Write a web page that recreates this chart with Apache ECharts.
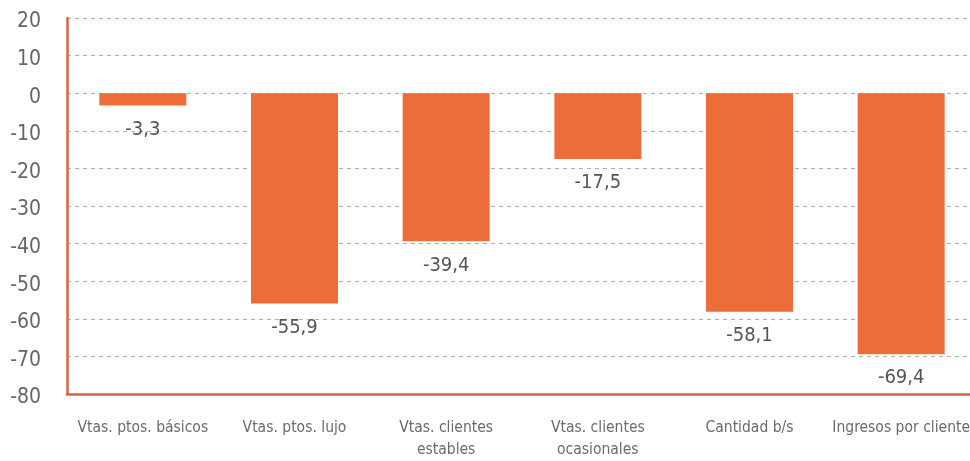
<!DOCTYPE html>
<html><head><meta charset="utf-8">
<script src="https://cdn.jsdelivr.net/npm/echarts@6/dist/echarts.min.js"></script>
<style>html,body{margin:0;padding:0;background:#fff;overflow:hidden;width:970px;height:461px}
#w{position:relative;width:970px;height:461px;overflow:hidden}
#c{position:absolute;left:0;top:0;width:977px;height:461px}</style>
</head><body><div id="w"><div id="c"></div></div>
<script>
const categories = ["Vtas. ptos. básicos", "Vtas. ptos. lujo", "Vtas. clientes\nestables", "Vtas. clientes\nocasionales", "Cantidad b/s", "Ingresos por cliente"];
const values = [-3.3, -55.9, -39.4, -17.5, -58.1, -69.4];
const yMin = -80, yMax = 20, yStep = 10;
const FONT = "'DejaVu Sans Condensed', 'DejaVu Sans', sans-serif";
const chart = echarts.init(document.getElementById('c'));
chart.setOption({
  animation: false,
  grid: { left: 67, right: 0, top: 18, bottom: 62, containLabel: false },
  xAxis: {
    type: 'category', data: categories, position: 'bottom',
    axisLine: { onZero: false, lineStyle: { color: '#D9643C', width: 2.5 } },
    axisTick: { show: false },
    axisLabel: { color: '#6a6a6a', fontFamily: FONT, fontSize: 15.5, margin: 23, lineHeight: 22, interval: 0 }
  },
  yAxis: {
    type: 'value', min: yMin, max: yMax, interval: yStep,
    axisLine: { show: true, lineStyle: { color: '#D9643C', width: 2.5 } },
    axisTick: { show: false },
    axisLabel: { color: '#666', fontFamily: FONT, fontSize: 21, margin: 26, verticalAlign: 'top', lineHeight: 8 },
    splitLine: { lineStyle: { color: '#b0b0b0', type: [4, 4], width: 1 } }
  },
  series: [{
    type: 'bar', data: values, barWidth: 87,
    itemStyle: { color: '#EC6D3A' },
    label: {
      show: true, position: 'bottom', distance: 14,
      color: '#555', fontFamily: FONT, fontSize: 20,
      formatter: p => String(p.value).replace('.', ',')
    }
  }]
});
</script></body></html>
